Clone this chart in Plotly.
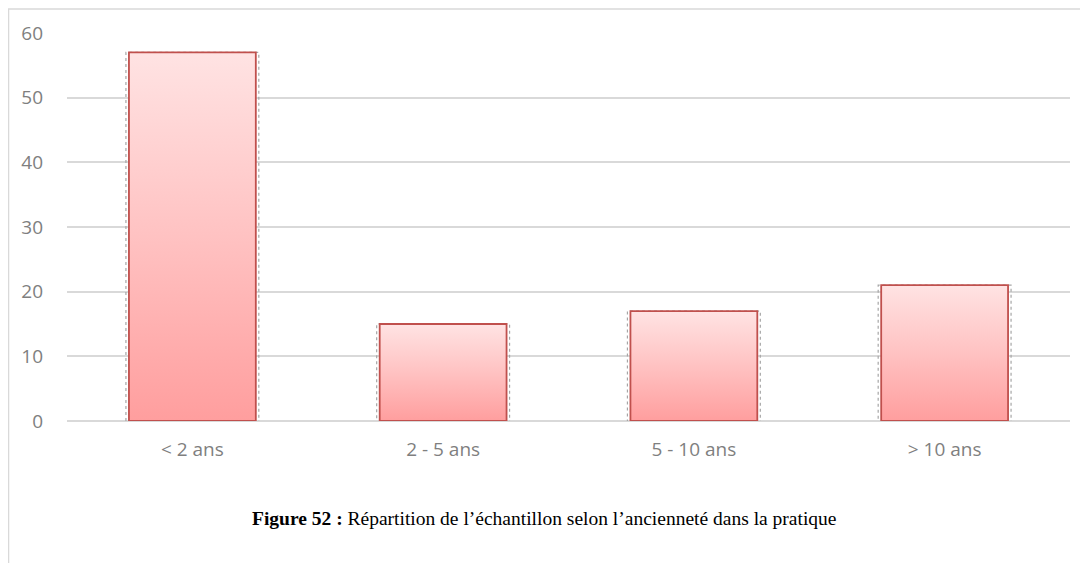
import plotly.graph_objects as go

categories = ["< 2 ans", "2 - 5 ans", "5 - 10 ans", "> 10 ans"]
values = [57, 15, 17, 21]
y_ticks = [0, 10, 20, 30, 40, 50, 60]

caption = "<b>Figure 52 :</b> Répartition de l’échantillon selon l’ancienneté dans la pratique"

half = 0.253  # half bar width, in category units

fig = go.Figure()
for i, (cat, v) in enumerate(zip(categories, values)):
    # soft grey dotted halo around each bar
    fig.add_trace(go.Scatter(
        x=[i - half - 0.012, i + half + 0.012, i + half + 0.012, i - half - 0.012, i - half - 0.012],
        y=[-0.3, -0.3, v, v, -0.3],
        mode="lines", line=dict(color="#A6A6A6", width=1.2, dash="dot"),
        hoverinfo="skip", showlegend=False,
    ))
    # gradient-filled bar
    fig.add_trace(go.Scatter(
        x=[i - half, i + half, i + half, i - half, i - half],
        y=[0, 0, v, v, 0],
        mode="lines", fill="toself",
        fillgradient=dict(type="vertical",
                          colorscale=[[0, "#FF9E9E"], [0.5, "#FFC2C2"], [1, "#FFE3E3"]]),
        line=dict(color="#C0504D", width=1.8),
        name=cat, hovertemplate="%{text}<extra></extra>", text=[f"{cat}: {v}"] * 5,
        showlegend=False,
    ))

# the page body adds an 8px margin, so margins are shifted to compensate
fig.update_layout(
    width=1088, height=563,
    margin=dict(l=59, r=26, t=25, b=150),
    paper_bgcolor="white", plot_bgcolor="white",
    font=dict(family="Open Sans, Liberation Sans, sans-serif", color="#7F7F7F", size=19),
    showlegend=False,
    xaxis=dict(
        range=[-0.5, len(categories) - 0.5],
        tickvals=list(range(len(categories))), ticktext=categories,
        showgrid=False, zeroline=False, showline=False, ticks="",
        ticklabelstandoff=15,
    ),
    yaxis=dict(
        range=[0, 60], tickvals=y_ticks,
        showgrid=True, gridcolor="#D9D9D9", gridwidth=1.5,
        zeroline=True, zerolinecolor="#D9D9D9", zerolinewidth=1.5,
        showline=False, ticks="", ticklabelstandoff=23,
    ),
    shapes=[dict(type="rect", xref="paper", yref="paper",
                 x0=-0.0583, x1=1.2, y0=-0.6, y1=1.062,
                 line=dict(color="#D9D9D9", width=1.5), layer="below")],
    annotations=[dict(text=caption, xref="paper", yref="paper",
                      x=0.4756, y=-0.25, showarrow=False, xanchor="center", yanchor="middle",
                      font=dict(family="Liberation Serif, Times New Roman, serif", size=19.5, color="black"))],
)

fig.write_html("out.html")
